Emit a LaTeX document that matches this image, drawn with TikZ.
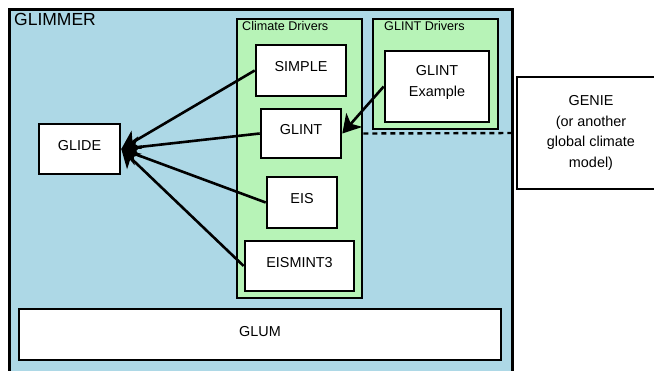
\documentclass[tikz,border=0pt]{standalone}
\usepackage{fontspec}
\setmainfont{Liberation Sans}
\usetikzlibrary{arrows.meta}

\definecolor{glimmerblue}{RGB}{173,216,230}
\definecolor{drivergreen}{RGB}{183,243,183}

\begin{document}
\begin{tikzpicture}[x=1pt,y=-1pt,
        box/.style={draw, line width=2.6pt, fill=white, inner sep=0pt, text depth=8pt, align=center, font=\fontsize{14.4}{20.5}\selectfont},
        group/.style={draw, line width=2.6pt, inner sep=0pt},
        grouplabel/.style={anchor=base west, inner sep=0pt, font=\fontsize{12.6}{15}\selectfont},
        arr/.style={line width=2.6pt, -{Stealth[length=18pt 0 0,width=21pt 0 0,inset=5pt 0]}}]
        \useasboundingbox (0,0) rectangle (654,370);
        \clip (0,0) rectangle (654,370);
        \node[group, fill=glimmerblue, minimum width=503pt, minimum height=380pt, anchor=north west] (glimmer) at (8,8) {};
        \node[anchor=base west, inner sep=0pt, font=\fontsize{17.5}{20}\selectfont] (glimmertitle) at (14,25) {GLIMMER};
        \node[group, fill=drivergreen, minimum width=125pt, minimum height=279pt] (climate) at (299.5,158.5) {};
        \node[grouplabel] (climatetitle) at (242,30.5) {Climate Drivers};
        \node[group, fill=drivergreen, minimum width=125pt, minimum height=110pt] (glintdrv) at (435.5,74) {};
        \node[grouplabel] (glintdrvtitle) at (384,30.5) {GLINT Drivers};
        \node[box, minimum width=90pt, minimum height=51pt] (simple) at (301,70.5) {SIMPLE};
        \node[box, minimum width=80pt, minimum height=49pt] (glint) at (301,133.5) {GLINT};
        \node[box, minimum width=70pt, minimum height=51pt] (eis) at (302,202.5) {EIS};
        \node[box, minimum width=109pt, minimum height=50pt] (eismint) at (299.5,266) {EISMINT3};
        \node[box, minimum width=81pt, minimum height=50pt] (glide) at (79.5,149) {GLIDE};
        \node[box, minimum width=482pt, minimum height=51pt, text depth=6pt] (glum) at (260,334.5) {GLUM};
        \node[box, minimum width=104pt, minimum height=71pt, text depth=11pt] (glintex) at (437,86.5) {GLINT\\Example};
        \node[box, minimum width=148pt, minimum height=112pt, text depth=3pt] (genie) at (591,133) {GENIE\\(or another\\global climate\\model)};
        \foreach \n in {simple, glint, eis, eismint}
            \draw[arr] (\n.west) -- (glide.east);
        \draw[arr] (glintex.west) -- (glint.east);
        \draw[line width=2.4pt, dash pattern=on 5pt off 4pt] (glint.east -| climate.east) -- (genie.west);
\end{tikzpicture}
\end{document}
